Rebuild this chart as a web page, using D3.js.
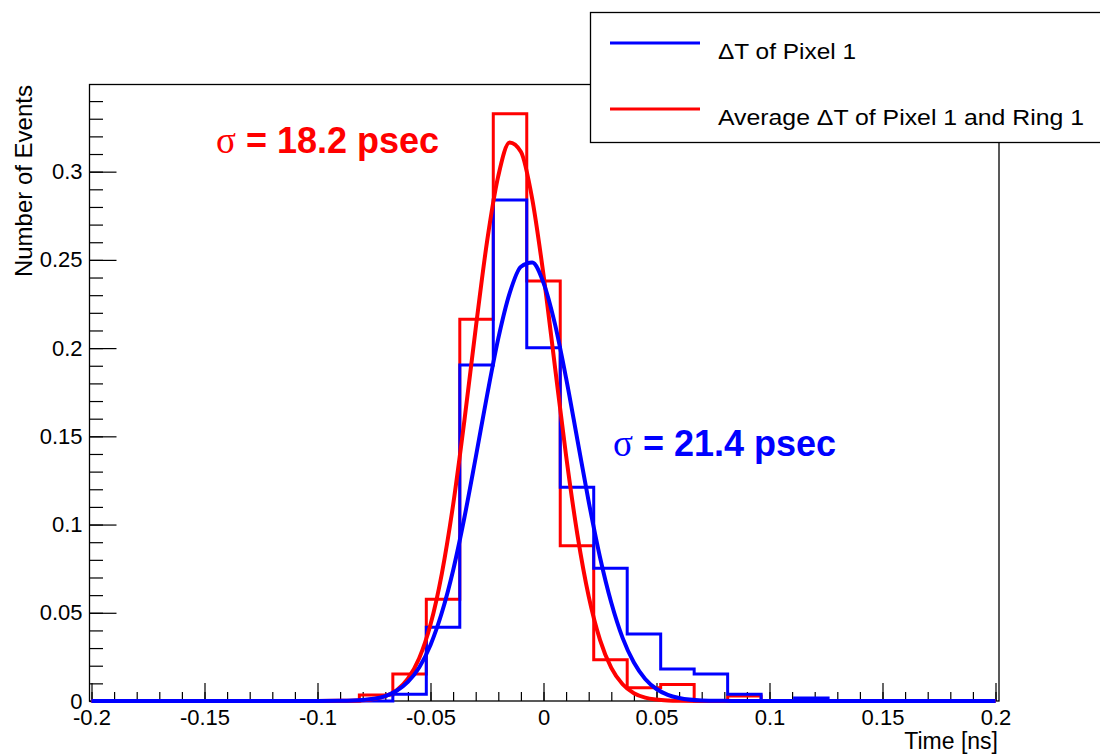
<!DOCTYPE html>
<html>
<head>
<meta charset="utf-8">
<script src="https://cdn.jsdelivr.net/npm/d3@7"></script>
<style>
  body { margin: 0; background: #fff; }
  svg { display: block; }
  text { font-family: "Liberation Sans", Arial, Helvetica, sans-serif; }
</style>
</head>
<body>
<svg id="chart" width="1100" height="754"></svg>
<script>
// histogram binning (27 bins between -0.2 and 0.2 ns)
const binLo = -0.2, binHi = 0.2, nBins = 27;

// bin contents
const redCounts = [0, 0, 0, 0, 0, 0, 0, 0,
  0.0034, 0.0153, 0.0576, 0.2163, 0.3328, 0.2381, 0.0880, 0.0234, 0.0075, 0.0094, 0, 0.0028,
  0, 0, 0, 0, 0, 0, 0];
const blueCounts = [0, 0, 0, 0, 0, 0, 0, 0, 0,
  0.0038, 0.0418, 0.1904, 0.2839, 0.2002, 0.1211, 0.0752, 0.0380, 0.0181, 0.0153, 0.0038, 0, 0.0017,
  0, 0, 0, 0, 0];

// gaussian fit curves
const fitX = [-0.2, -0.1, -0.09, -0.08, -0.07, -0.065, -0.06, -0.055, -0.05, -0.045, -0.04, -0.035,
  -0.03, -0.025, -0.02, -0.015, -0.01, -0.005, 0, 0.005, 0.01, 0.015, 0.02, 0.025, 0.03, 0.035,
  0.04, 0.045, 0.05, 0.055, 0.06, 0.07, 0.08, 0.09, 0.1, 0.2];
const redFit = [0, 0, 0.0001, 0.0004, 0.0027, 0.0060, 0.0126, 0.0242, 0.0433, 0.0721, 0.1111, 0.1590,
  0.2111, 0.2602, 0.2976, 0.3165, 0.3113, 0.2846, 0.2415, 0.1902, 0.1390, 0.0943, 0.0593, 0.0347,
  0.0188, 0.0095, 0.0044, 0.0019, 0.0008, 0.0003, 0.0001, 0, 0, 0, 0, 0];
const blueFit = [0, 0, 0.0001, 0.0006, 0.0028, 0.0058, 0.0108, 0.0190, 0.0318, 0.0500, 0.0740, 0.1040,
  0.1380, 0.1730, 0.2055, 0.2310, 0.2461, 0.2485, 0.2370, 0.2140, 0.1830, 0.1480, 0.1130, 0.0815,
  0.0557, 0.0358, 0.0218, 0.0125, 0.0068, 0.0035, 0.0017, 0.0003, 0.0001, 0, 0, 0];

const xTicks = [-0.2, -0.15, -0.1, -0.05, 0, 0.05, 0.1, 0.15, 0.2];
const yTicks = [0, 0.05, 0.1, 0.15, 0.2, 0.25, 0.3];
const yMax = 0.3494;

const legendLabels = ["\u0394T of Pixel 1", "Average \u0394T of Pixel 1 and Ring 1"];
const sigmaLabels = ["18.2", "21.4"];

const svg = d3.select("#chart");

// frame box
const frame = {left: 89.5, right: 999, top: 84.5, bottom: 701};

var x = d3.scaleLinear().domain([binLo, binHi]).range([91.5, 995.5]);
var y = d3.scaleLinear().domain([0, yMax]).range([frame.bottom, frame.top]);

svg.append("rect")
  .attr("x", frame.left).attr("y", frame.top)
  .attr("width", frame.right - frame.left).attr("height", frame.bottom - frame.top)
  .attr("fill", "none").attr("stroke", "#000").attr("stroke-width", 1.3);

// minor ticks every 0.01
var xMinor = d3.range(-20, 21).map(i => i / 100);
var yMinor = d3.range(0, 35).map(i => i / 100);

var fmt = d => d === 0 ? "0" : String(d);

svg.append("g")
  .attr("transform", "translate(0," + frame.bottom + ")")
  .call(d3.axisBottom(x).tickValues(xTicks).tickSize(-18).tickPadding(8).tickFormat(fmt));
svg.append("g")
  .attr("transform", "translate(0," + frame.bottom + ")")
  .call(d3.axisBottom(x).tickValues(xMinor).tickSize(-9).tickFormat(""));

svg.append("g")
  .attr("transform", "translate(" + frame.left + ",0)")
  .call(d3.axisLeft(y).tickValues(yTicks).tickSize(-27).tickPadding(7).tickFormat(fmt));
svg.append("g")
  .attr("transform", "translate(" + frame.left + ",0)")
  .call(d3.axisLeft(y).tickValues(yMinor).tickSize(-13.5).tickFormat(""));

svg.selectAll(".domain").remove();
svg.selectAll(".tick line").attr("stroke", "#000").attr("stroke-width", 1.2);
svg.selectAll(".tick text").attr("font-size", 22).attr("fill", "#000")
  .style("font-family", '"Liberation Sans", Arial, sans-serif');

// axis titles
svg.append("text")
  .attr("x", 998).attr("y", 749)
  .attr("text-anchor", "end").attr("font-size", 23)
  .text("Time [ns]");
svg.append("text")
  .attr("transform", "translate(32,85) rotate(-90)")
  .attr("text-anchor", "end").attr("font-size", 24)
  .text("Number of Events");

// histograms as step outlines
function histPoints(counts) {
  var w = (binHi - binLo) / nBins;
  var pts = [[binLo, 0]];
  counts.forEach(function(v, i) {
    pts.push([binLo + i * w, v]);
    pts.push([binLo + (i + 1) * w, v]);
  });
  pts.push([binHi, 0]);
  return pts;
}
var stepLine = d3.line().x(d => x(d[0])).y(d => y(d[1]));

svg.append("path").datum(histPoints(redCounts))
  .attr("d", stepLine).attr("fill", "none").attr("stroke", "#ff0000").attr("stroke-width", 3);
svg.append("path").datum(histPoints(blueCounts))
  .attr("d", stepLine).attr("fill", "none").attr("stroke", "#0000ff").attr("stroke-width", 3);

// fits
var fitLine = d3.line()
  .x((d, i) => x(fitX[i]))
  .y(d => y(d))
  .curve(d3.curveMonotoneX);

svg.append("path").datum(redFit)
  .attr("d", fitLine).attr("fill", "none").attr("stroke", "#ff0000").attr("stroke-width", 4)
  .attr("stroke-linejoin", "round");
svg.append("path").datum(blueFit)
  .attr("d", fitLine).attr("fill", "none").attr("stroke", "#0000ff").attr("stroke-width", 4)
  .attr("stroke-linejoin", "round");

// sigma annotations
function sigmaText(px, py, color, val) {
  var t = svg.append("text").attr("x", px).attr("y", py).attr("fill", color);
  t.append("tspan").attr("font-family", '"Liberation Serif", "Times New Roman", serif')
    .attr("font-size", 37).text("\u03c3");
  t.append("tspan").attr("font-weight", "bold").attr("font-size", 36)
    .text(" = " + val + " psec");
}
sigmaText(216, 153, "#ff0000", sigmaLabels[0]);
sigmaText(613, 456, "#0000ff", sigmaLabels[1]);

// legend
var legend = svg.append("g");
legend.append("rect")
  .attr("x", 590.5).attr("y", 12.5).attr("width", 530).attr("height", 130)
  .attr("fill", "#fff").attr("stroke", "#000").attr("stroke-width", 1.3);
var legendColors = ["#0000ff", "#ff0000"];
var legendY = [43, 109];
var legendW = [138, 366];
legendLabels.forEach(function(label, i) {
  legend.append("line")
    .attr("x1", 610).attr("x2", 700).attr("y1", legendY[i]).attr("y2", legendY[i])
    .attr("stroke", legendColors[i]).attr("stroke-width", 3);
  legend.append("text")
    .attr("x", 718).attr("y", legendY[i] + 16)
    .attr("font-size", 22)
    .attr("textLength", legendW[i]).attr("lengthAdjust", "spacingAndGlyphs")
    .text(label);
});
</script>
</body>
</html>
